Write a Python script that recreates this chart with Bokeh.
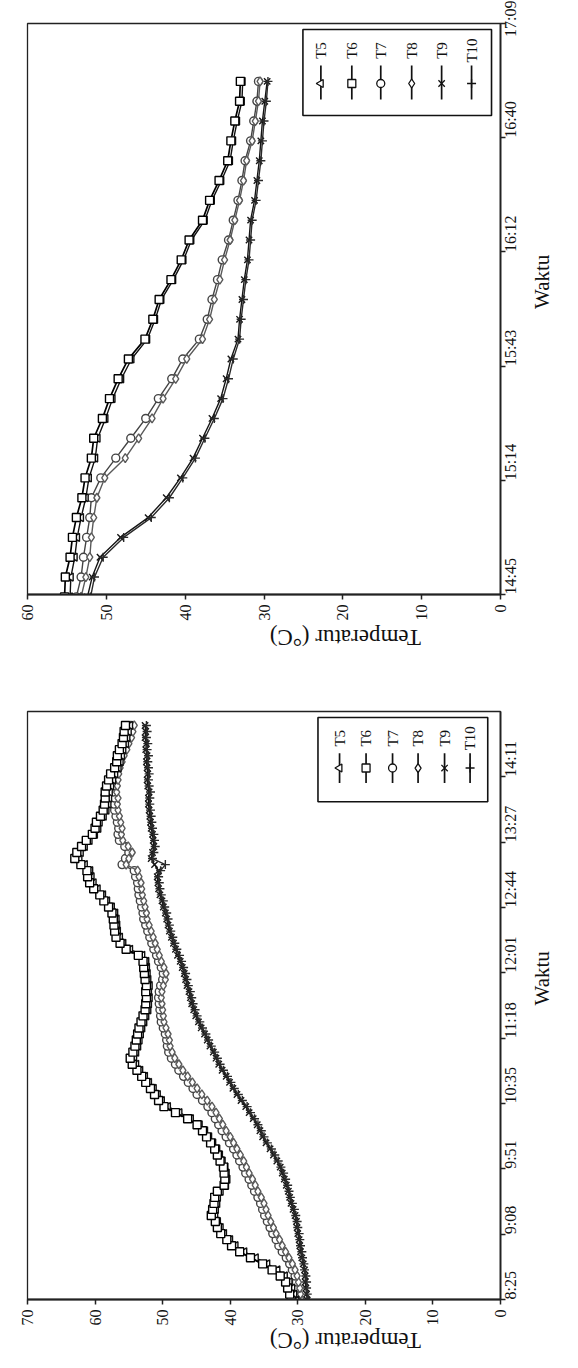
import math
from bokeh.plotting import figure
from bokeh.layouts import column
from bokeh.models import Range1d, FixedTicker
from bokeh.core.properties import value
from bokeh.embed import file_html
from bokeh.resources import INLINE

series_names = ["T5", "T6", "T7", "T8", "T9", "T10"]

# ---------------- upper chart (afternoon cooling) ----------------
top_times = ["14:45", "14:50", "14:55", "15:00", "15:05", "15:10", "15:15", "15:20", "15:25",
             "15:30", "15:35", "15:40", "15:45", "15:50", "15:55", "16:00", "16:05", "16:10",
             "16:15", "16:20", "16:25", "16:30", "16:35", "16:40", "16:45", "16:50", "16:55"]
top_T5 = [54.6, 54.5, 54.0, 53.7, 53.2, 52.6, 52.2, 51.4, 51.1, 50.1, 49.2, 48.1, 46.8, 44.8,
          43.8, 43.0, 41.5, 40.2, 39.2, 37.5, 36.6, 35.4, 34.3, 33.9, 33.4, 32.8, 32.7]
top_T6 = [55.3, 55.2, 54.6, 54.3, 53.8, 53.1, 52.7, 51.9, 51.6, 50.5, 49.6, 48.5, 47.2, 45.1,
          44.1, 43.3, 41.8, 40.5, 39.5, 37.8, 36.9, 35.7, 34.6, 34.2, 33.7, 33.1, 33.0]
top_T7 = [53.8, 53.2, 52.9, 52.5, 52.1, 51.9, 50.7, 48.8, 46.9, 45.0, 43.4, 41.7, 40.3, 38.2,
          37.2, 36.6, 35.9, 35.3, 34.5, 33.9, 33.3, 32.8, 32.4, 31.7, 31.3, 30.9, 30.7]
top_T8 = [53.2, 52.6, 52.1, 51.9, 51.6, 51.2, 50.2, 47.6, 45.9, 44.2, 42.8, 41.2, 39.8, 37.8,
          36.9, 36.3, 35.6, 35.0, 34.3, 33.7, 33.1, 32.6, 32.2, 31.5, 31.1, 30.7, 30.5]
top_T9 = [52.4, 51.8, 50.8, 48.2, 44.7, 42.4, 40.6, 39.0, 37.8, 36.6, 35.5, 34.8, 34.2, 33.3,
          33.1, 32.8, 32.5, 32.1, 31.9, 31.7, 31.2, 30.9, 30.6, 30.4, 30.2, 29.9, 29.6]
top_T10 = [52.0, 51.5, 50.4, 47.8, 44.3, 42.0, 40.3, 38.7, 37.5, 36.3, 35.2, 34.5, 33.9, 33.1,
           32.9, 32.6, 32.3, 31.9, 31.7, 31.5, 31.0, 30.7, 30.4, 30.2, 30.0, 29.7, 29.5]
top_tick_minutes = [885.6, 914.4, 943.2, 972.0, 1000.8, 1029.6]
top_tick_labels = ["14:45", "15:14", "15:43", "16:12", "16:40", "17:09"]
top_temp_ticks = [0, 10, 20, 30, 40, 50, 60]

# ---------------- lower chart (morning heating) ----------------
bot_times = ["8:25", "8:29", "8:33", "8:37", "8:41", "8:45", "8:49", "8:53", "8:57", "9:01",
             "9:05", "9:09", "9:13", "9:17", "9:21", "9:25", "9:29", "9:33", "9:37", "9:41",
             "9:45", "9:49", "9:53", "9:57", "10:01", "10:05", "10:09", "10:13", "10:17", "10:21",
             "10:25", "10:29", "10:33", "10:37", "10:41", "10:45", "10:49", "10:53", "10:57", "11:01",
             "11:05", "11:09", "11:13", "11:17", "11:21", "11:25", "11:29", "11:33", "11:37", "11:41",
             "11:45", "11:49", "11:53", "11:57", "12:01", "12:05", "12:09", "12:13", "12:17", "12:21",
             "12:25", "12:29", "12:33", "12:37", "12:41", "12:45", "12:49", "12:53", "12:57", "13:01",
             "13:05", "13:09", "13:13", "13:17", "13:21", "13:25", "13:29", "13:33", "13:37", "13:41",
             "13:45", "13:49", "13:53", "13:57", "14:01", "14:05", "14:09", "14:13", "14:17", "14:21",
             "14:25", "14:29", "14:33", "14:37", "14:41", "14:45"]
bot_T5 = [30.2, 30.5, 30.8, 31.2, 31.9, 33.0, 34.5, 36.2, 37.9, 39.2,
          40.0, 40.9, 41.4, 41.8, 42.2, 42.1, 41.9, 41.8, 41.4, 40.6,
          40.4, 40.5, 40.7, 41.1, 41.5, 41.9, 42.5, 43.1, 43.7, 44.5,
          45.8, 47.5, 49.2, 50.1, 50.7, 51.3, 52.0, 52.6, 53.3, 53.9,
          54.2, 53.9, 53.6, 53.4, 53.2, 53.0, 52.7, 52.4, 52.1, 52.0,
          51.9, 52.0, 51.9, 52.1, 52.2, 52.3, 52.4, 53.0, 54.8, 55.8,
          56.3, 56.6, 56.7, 56.8, 57.0, 57.5, 58.2, 58.8, 59.6, 60.2,
          60.5, 60.7, 61.5, 62.3, 62.1, 61.5, 60.8, 60.0, 59.5, 59.3,
          58.7, 58.3, 58.0, 57.9, 57.8, 57.6, 57.3, 57.0, 56.5, 56.2,
          56.0, 55.8, 55.4, 55.2, 55.0, 54.8]
bot_T6 = [31.0, 31.2, 31.5, 31.8, 32.6, 33.8, 35.2, 37.0, 38.6, 39.8,
          40.5, 41.4, 41.9, 42.2, 42.8, 42.6, 42.4, 42.3, 41.9, 40.9,
          40.8, 40.9, 41.0, 41.5, 41.9, 42.3, 42.9, 43.5, 44.1, 44.9,
          46.3, 48.1, 49.8, 50.6, 51.2, 51.8, 52.5, 53.1, 53.8, 54.5,
          54.8, 54.4, 54.1, 53.9, 53.7, 53.5, 53.2, 52.9, 52.6, 52.5,
          52.4, 52.5, 52.4, 52.6, 52.7, 52.8, 52.9, 53.6, 55.4, 56.3,
          56.9, 57.1, 57.2, 57.3, 57.5, 58.0, 58.7, 59.3, 60.2, 60.8,
          61.1, 61.2, 62.1, 63.0, 62.7, 62.0, 61.3, 60.4, 60.0, 59.8,
          59.2, 58.8, 58.6, 58.5, 58.5, 58.3, 58.0, 57.7, 57.1, 56.8,
          56.7, 56.4, 56.0, 55.8, 55.7, 55.5]
bot_T7 = [29.7, 29.9, 30.1, 30.2, 30.4, 30.8, 31.2, 31.7, 32.3, 32.8,
          33.2, 33.7, 34.1, 34.5, 34.9, 35.2, 35.5, 35.9, 36.4, 36.8,
          37.2, 37.7, 38.1, 38.6, 39.0, 39.5, 40.1, 40.6, 41.2, 41.7,
          42.2, 42.7, 43.3, 44.1, 44.9, 45.5, 46.2, 46.9, 47.6, 48.1,
          48.7, 49.1, 49.3, 49.4, 49.6, 49.9, 50.2, 50.3, 50.4, 50.5,
          50.6, 50.5, 50.3, 50.0, 49.9, 50.2, 50.6, 50.9, 51.3, 51.6,
          51.9, 52.2, 52.5, 52.8, 52.9, 53.1, 53.3, 53.5, 53.6, 53.7,
          54.0, 54.2, 56.0, 55.5, 55.0, 55.6, 56.4, 56.6, 56.5, 56.7,
          56.9, 57.1, 57.2, 57.1, 57.3, 57.2, 57.1, 57.0, 56.8, 56.5,
          56.2, 55.8, 55.5, 55.1, 54.9, 54.7]
bot_T8 = [29.4, 29.6, 29.7, 29.9, 30.1, 30.4, 30.8, 31.3, 31.8, 32.3,
          32.7, 33.2, 33.6, 34.0, 34.4, 34.7, 35.0, 35.4, 35.9, 36.3,
          36.7, 37.2, 37.6, 38.0, 38.5, 39.0, 39.5, 40.0, 40.6, 41.1,
          41.6, 42.1, 42.7, 43.4, 44.2, 44.9, 45.6, 46.3, 47.0, 47.6,
          48.2, 48.6, 48.9, 49.0, 49.2, 49.5, 49.8, 49.9, 50.0, 50.1,
          50.2, 50.1, 49.9, 49.6, 49.5, 49.8, 50.2, 50.5, 50.8, 51.1,
          51.4, 51.7, 52.0, 52.3, 52.4, 52.6, 52.8, 53.0, 53.1, 53.2,
          53.5, 53.7, 55.4, 55.0, 54.5, 55.1, 55.9, 56.1, 56.0, 56.2,
          56.4, 56.6, 56.7, 56.6, 56.8, 56.7, 56.6, 56.5, 56.3, 56.0,
          55.7, 55.3, 55.0, 54.6, 54.4, 54.2]
bot_T9 = [28.6, 28.7, 28.8, 28.9, 28.9, 29.0, 29.2, 29.4, 29.6, 29.7,
          29.8, 30.0, 30.1, 30.2, 30.4, 30.7, 31.0, 31.2, 31.4, 31.7,
          32.0, 32.3, 32.6, 33.1, 33.6, 34.1, 34.7, 35.2, 35.6, 36.0,
          36.6, 37.2, 37.7, 38.4, 39.0, 39.6, 40.1, 40.6, 41.2, 41.7,
          42.1, 42.5, 43.0, 43.4, 43.8, 44.3, 44.7, 45.1, 45.4, 45.7,
          45.9, 46.1, 46.4, 46.6, 46.8, 47.1, 47.4, 47.8, 48.1, 48.4,
          48.7, 49.0, 49.2, 49.4, 49.6, 49.9, 50.1, 50.4, 50.6, 50.7,
          50.8, 50.6, 51.2, 51.7, 51.5, 51.3, 51.4, 51.5, 51.7, 51.8,
          51.9, 52.0, 52.1, 52.1, 52.0, 52.2, 52.3, 52.2, 52.3, 52.4,
          52.3, 52.5, 52.4, 52.6, 52.5, 52.6]
bot_T10 = [28.4, 28.6, 28.7, 28.7, 28.8, 29.0, 29.1, 29.3, 29.4, 29.6,
           29.7, 29.8, 30.0, 30.1, 30.3, 30.5, 30.8, 31.1, 31.3, 31.5,
           31.8, 32.1, 32.5, 32.9, 33.4, 33.9, 34.5, 35.0, 35.4, 35.9,
           36.4, 37.0, 37.5, 38.2, 38.8, 39.4, 39.9, 40.4, 41.0, 41.5,
           41.9, 42.3, 42.8, 43.2, 43.6, 44.1, 44.5, 44.9, 45.2, 45.5,
           45.7, 45.9, 46.2, 46.4, 46.6, 46.9, 47.2, 47.5, 47.9, 48.2,
           48.5, 48.8, 49.0, 49.2, 49.4, 49.7, 49.9, 50.2, 50.4, 50.5,
           50.6, 50.3, 49.6, 51.5, 51.3, 51.1, 51.2, 51.3, 51.5, 51.6,
           51.7, 51.8, 51.9, 51.9, 51.8, 52.0, 52.1, 52.0, 52.1, 52.2,
           52.1, 52.3, 52.2, 52.4, 52.3, 52.4]
bot_tick_minutes = [505.44, 548.64, 591.84, 635.04, 678.24, 721.44, 764.64, 807.84, 851.04]
bot_tick_labels = ["8:25", "9:08", "9:51", "10:35", "11:18", "12:01", "12:44", "13:27", "14:11"]
bot_temp_ticks = [0, 10, 20, 30, 40, 50, 60, 70]

x_title = "Temperatur  (\u00b0C)"
y_title = "Waktu"

FONT = "Liberation Serif"
styles = {
    "T5": dict(marker="triangle", color="#111111", size=8, angle=math.pi / 2),
    "T6": dict(marker="square", color="#000000", size=8, angle=0.0),
    "T7": dict(marker="circle", color="#444444", size=8, angle=0.0),
    "T8": dict(marker="diamond", color="#5a5a5a", size=9, angle=0.0),
    "T9": dict(marker="x", color="#151515", size=9, angle=0.0),
    "T10": dict(marker="cross", color="#2a2a2a", size=9, angle=0.0),
}


def hm(s):
    h, m = s.split(":")
    return int(h) * 60 + int(m)


def build(times, data, temp_max, t0, t1, tick_min, tick_lab, temp_ticks,
          W, H, bl, br, bt, bb, leg, std_x, std_y):
    p = figure(width=W, height=H, x_range=Range1d(temp_max, 0), y_range=Range1d(t0, t1),
               y_axis_location="right", toolbar_location=None, output_backend="svg",
               min_border_left=bl, min_border_right=br, min_border_top=bt, min_border_bottom=bb,
               background_fill_color="white", border_fill_color="white")
    p.grid.visible = False
    p.outline_line_color = "#222222"
    p.outline_line_width = 1.3

    fl, fr, ft, fb = bl, W - br, bt, H - bb

    def tx(px):
        return temp_max * (fr - px) / (fr - fl)

    def ty(py):
        return t1 - (py - ft) * (t1 - t0) / (fb - ft)

    mins = [hm(s) for s in times]
    order = ["T9", "T10", "T7", "T8", "T5", "T6"]
    for name in order:
        st = styles[name]
        vals = data[name]
        lw = 1.7 if name == "T6" else 1.4
        p.line(vals, mins, line_color=st["color"], line_width=lw)
        p.scatter(vals, mins, marker=st["marker"], size=st["size"], angle=st["angle"],
                  line_color=st["color"], fill_color="white", line_width=1.4)

    # legend (drawn by hand so that its texts can be rotated like the reference)
    bx0, bx1, by0, by1 = leg["box"]
    p.quad(left=[tx(bx1)], right=[tx(bx0)], top=[ty(by0)], bottom=[ty(by1)],
           fill_color="white", line_color="#111111", line_width=1.6)
    for name, cx in zip(series_names, leg["cols"]):
        st = styles[name]
        p.segment(x0=[tx(cx)], y0=[ty(leg["seg"][0])], x1=[tx(cx)], y1=[ty(leg["seg"][1])],
                  line_color="#111111", line_width=1.7)
        p.scatter([tx(cx)], [ty(leg["mark"])], marker=st["marker"], size=st["size"],
                  angle=st["angle"], line_color="#111111", fill_color="white", line_width=1.3)
        p.text([tx(cx)], [ty(leg["text"])], text=[name], angle=math.pi / 2,
               text_align="center", text_baseline="middle",
               text_font=value(FONT), text_font_size="15px", text_color="#111111")

    xa = p.xaxis[0]
    xa.ticker = FixedTicker(ticks=temp_ticks)
    xa.major_label_orientation = math.pi / 2
    xa.axis_label = x_title
    xa.axis_label_orientation = math.pi
    xa.axis_label_standoff = std_x

    ya = p.yaxis[0]
    ya.ticker = FixedTicker(ticks=tick_min)
    ya.major_label_overrides = {t: lab for t, lab in zip(tick_min, tick_lab)}
    ya.major_label_orientation = math.pi / 2
    ya.axis_label = y_title
    ya.axis_label_orientation = math.pi / 2
    ya.axis_label_standoff = std_y

    for ax in (xa, ya):
        ax.axis_line_color = "#222222"
        ax.axis_line_width = 1.8
        ax.major_tick_line_color = "#222222"
        ax.major_tick_line_width = 1.5
        ax.major_tick_out = 5
        ax.major_tick_in = 0
        ax.minor_tick_out = 0
        ax.minor_tick_in = 0
        ax.major_label_text_font = FONT
        ax.major_label_text_font_size = "16px"
        ax.major_label_text_color = "#111111"
        ax.major_label_standoff = 5
        ax.axis_label_text_font = FONT
        ax.axis_label_text_font_style = "normal"
        ax.axis_label_text_color = "#111111"
    xa.axis_label_text_font_size = "23px"
    ya.axis_label_text_font_size = "21px"
    return p


top_data = dict(T5=top_T5, T6=top_T6, T7=top_T7, T8=top_T8, T9=top_T9, T10=top_T10)
bot_data = dict(T5=bot_T5, T6=bot_T6, T7=bot_T7, T8=bot_T8, T9=bot_T9, T10=bot_T10)

p1 = build(top_times, top_data, 60, top_tick_minutes[0], top_tick_minutes[-1],
           top_tick_minutes, top_tick_labels, top_temp_ticks,
           578, 680, 27, 77, 23, 86,
           dict(box=(303, 492, 29, 115), cols=[321, 352, 381, 412, 442, 472],
                seg=(65, 99), mark=83, text=50),
           14, 11)

p2 = build(bot_times, bot_data, 70, bot_tick_minutes[0], 894.24,
           bot_tick_minutes, bot_tick_labels, bot_temp_ticks,
           578, 688, 18, 78, 31, 64,
           dict(box=(314, 487, 37, 122), cols=[336, 363, 390, 416, 443, 469],
                seg=(73, 103), mark=88, text=58),
           12, 11)

layout = column(p1, p2, spacing=0)
open("out.html", "w").write(file_html(layout, INLINE))
